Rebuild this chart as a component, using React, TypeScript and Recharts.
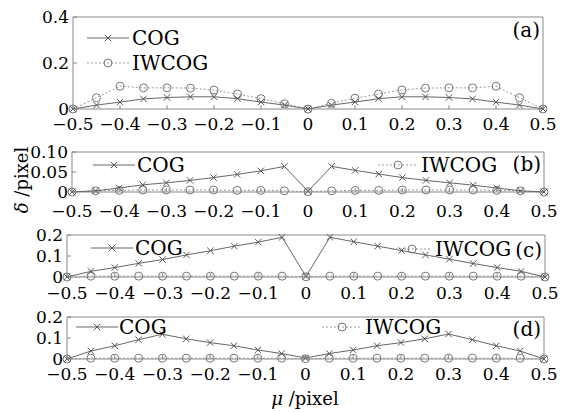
import React from "react";
import { LineChart, Line, XAxis, YAxis, ReferenceArea, Legend } from "recharts";

const mu = [-0.5, -0.45, -0.4, -0.35, -0.3, -0.25, -0.2, -0.15, -0.1, -0.05, 0, 0.05, 0.1, 0.15, 0.2, 0.25, 0.3, 0.35, 0.4, 0.45, 0.5];

const cogA = [0, 0.017, 0.03, 0.044, 0.05, 0.053, 0.053, 0.045, 0.03, 0.017, 0, 0.017, 0.03, 0.045, 0.053, 0.053, 0.05, 0.044, 0.03, 0.017, 0];
const iwcogA = [0, 0.049, 0.099, 0.092, 0.092, 0.091, 0.082, 0.065, 0.045, 0.023, 0, 0.025, 0.047, 0.065, 0.083, 0.091, 0.092, 0.092, 0.099, 0.049, 0];

const cogB = [0, 0.003, 0.01, 0.018, 0.023, 0.029, 0.036, 0.044, 0.053, 0.064, 0.002, 0.064, 0.054, 0.045, 0.036, 0.029, 0.023, 0.017, 0.01, 0.003, 0];
const iwcogB = [0, 0.003, 0.004, 0.005, 0.005, 0.005, 0.005, 0.004, 0.004, 0.003, 0.001, 0.003, 0.004, 0.004, 0.005, 0.005, 0.005, 0.005, 0.004, 0.003, 0];

const cogC = [0, 0.027, 0.045, 0.065, 0.083, 0.105, 0.125, 0.147, 0.166, 0.189, 0.003, 0.189, 0.168, 0.147, 0.126, 0.105, 0.085, 0.064, 0.045, 0.027, 0];
const iwcogC = [0, 0.004, 0.004, 0.004, 0.004, 0.004, 0.004, 0.004, 0.004, 0.004, 0.001, 0.004, 0.004, 0.004, 0.004, 0.004, 0.004, 0.004, 0.004, 0.004, 0];

const cogD = [0, 0.038, 0.063, 0.092, 0.118, 0.096, 0.078, 0.063, 0.043, 0.026, 0.005, 0.026, 0.043, 0.063, 0.078, 0.096, 0.119, 0.092, 0.063, 0.038, 0];
const iwcogD = [0, 0.004, 0.004, 0.004, 0.004, 0.004, 0.004, 0.004, 0.004, 0.004, 0.001, 0.004, 0.004, 0.004, 0.004, 0.004, 0.004, 0.004, 0.004, 0.004, 0];

const xTicks = [-0.5, -0.4, -0.3, -0.2, -0.1, 0, 0.1, 0.2, 0.3, 0.4, 0.5];
const yTicksA = [0, 0.2, 0.4];
const yTicksB = [0, 0.05, 0.1];
const yTicksC = [0, 0.1, 0.2];
const yTicksD = [0, 0.1, 0.2];

const names = ["COG", "IWCOG"];
const tags = ["(a)", "(b)", "(c)", "(d)"];

const FONT = "'DejaVu Serif', serif";
const W = 561;

const fmtX = (v: number) => (v === 0 ? "0" : (v < 0 ? "\u2212" : "") + Math.abs(v).toFixed(1));

function XMark(props: any) {
  const { cx, cy } = props;
  if (cx == null || cy == null) return null;
  const s = 3.2;
  return (
    <g>
      <line x1={cx - s} y1={cy - s} x2={cx + s} y2={cy + s} stroke="#555" strokeWidth={1} />
      <line x1={cx - s} y1={cy + s} x2={cx + s} y2={cy - s} stroke="#555" strokeWidth={1} />
    </g>
  );
}

function OMark(props: any) {
  const { cx, cy } = props;
  if (cx == null || cy == null) return null;
  return <circle cx={cx} cy={cy} r={4} fill="none" stroke="#777" strokeWidth={1} />;
}

type Item = { x0: number; x1: number; y: number; tx: number };

type PanelProps = {
  top: number;
  height: number;
  marginTop: number;
  plotH: number;
  left: number;
  right: number;
  cog: number[];
  iwcog: number[];
  yTicks: number[];
  yDigits: number;
  labelDy: number;
  items: Item[];
  tag: string;
  tagY: number;
};

function Panel(p: PanelProps) {
  const data = mu.map((x, i) => ({ x, cog: p.cog[i], iwcog: p.iwcog[i] }));
  const yMax = p.yTicks[p.yTicks.length - 1];
  const xAxisH = p.height - p.marginTop - p.plotH;

  const XTick = (t: any) => (
    <g>
      <line x1={t.x} y1={t.y} x2={t.x} y2={t.y - 4} stroke="#888" />
      <text x={t.x} y={t.y + p.labelDy} textAnchor="middle" dominantBaseline="central" fontFamily={FONT} fontSize={17} fill="#000">
        {fmtX(t.payload.value)}
      </text>
    </g>
  );

  const YTick = (t: any) => (
    <g>
      <line x1={t.x} y1={t.y} x2={t.x + 4} y2={t.y} stroke="#888" />
      <text x={t.x - 4} y={t.y} textAnchor="end" dominantBaseline="central" fontFamily={FONT} fontSize={17} fill="#000">
        {t.payload.value === 0 ? "0" : t.payload.value.toFixed(p.yDigits)}
      </text>
    </g>
  );

  const legend = () => (
    <svg width={W} height={p.height} style={{ position: "absolute", left: 0, top: 0, overflow: "visible" }}>
      {p.items.map((it, i) => {
        const mx = (it.x0 + it.x1) / 2;
        return (
          <g key={i}>
            <line
              x1={it.x0}
              y1={it.y}
              x2={it.x1}
              y2={it.y}
              stroke={i === 0 ? "#666" : "#999"}
              strokeDasharray={i === 0 ? undefined : "2 2"}
            />
            {i === 0 ? <XMark cx={mx} cy={it.y} /> : <OMark cx={mx} cy={it.y} />}
            <text x={it.tx} y={it.y} dominantBaseline="central" fontFamily={FONT} fontSize={20} fill="#000">
              {names[i]}
            </text>
          </g>
        );
      })}
      <text x={W - p.right - 3} y={p.tagY} textAnchor="end" dominantBaseline="central" fontFamily={FONT} fontSize={20} fill="#000">
        {p.tag}
      </text>
    </svg>
  );

  return (
    <div style={{ position: "absolute", left: 0, top: p.top }}>
      <LineChart width={W} height={p.height} data={data} margin={{ top: p.marginTop, right: p.right, bottom: 0, left: 0 }}>
        <XAxis
          dataKey="x"
          type="number"
          domain={[-0.5, 0.5]}
          ticks={xTicks}
          interval={0}
          height={xAxisH}
          axisLine={false}
          tickLine={false}
          tickSize={0}
          tickMargin={0}
          tick={(t: any) => <XTick key={t.index} {...t} />}
        />
        <YAxis
          type="number"
          domain={[0, yMax]}
          ticks={p.yTicks}
          interval={0}
          width={p.left}
          axisLine={false}
          tickLine={false}
          tickSize={0}
          tickMargin={0}
          tick={(t: any) => <YTick key={t.index} {...t} />}
        />
        <ReferenceArea x1={-0.5} x2={0.5} y1={0} y2={yMax} fill="none" stroke="#888" strokeWidth={1} />
        <Legend
          layout="horizontal"
          verticalAlign="middle"
          align="center"
          content={legend}
          wrapperStyle={{ left: 0, top: 0, width: W, height: p.height, pointerEvents: "none" }}
        />
        <Line
          dataKey="iwcog"
          stroke="#999"
          strokeWidth={1}
          strokeDasharray="2 2"
          isAnimationActive={false}
          dot={(d: any) => <OMark key={d.index} {...d} />}
        />
        <Line
          dataKey="cog"
          stroke="#666"
          strokeWidth={1}
          isAnimationActive={false}
          dot={(d: any) => <XMark key={d.index} {...d} />}
        />
      </LineChart>
    </div>
  );
}

export default function App() {
  return (
    <div style={{ position: "absolute", left: 0, top: 0, width: W, height: 412, background: "#fff", fontFamily: FONT }}>
      <Panel
        top={0}
        height={140}
        marginTop={17}
        plotH={92}
        left={73}
        right={18}
        cog={cogA}
        iwcog={iwcogA}
        yTicks={yTicksA}
        yDigits={1}
        labelDy={15}
        items={[
          { x0: 87, x1: 129, y: 38, tx: 132 },
          { x0: 87, x1: 129, y: 63, tx: 132 },
        ]}
        tag={tags[0]}
        tagY={30}
      />
      <Panel
        top={140}
        height={80}
        marginTop={12}
        plotH={40}
        left={72}
        right={17}
        cog={cogB}
        iwcog={iwcogB}
        yTicks={yTicksB}
        yDigits={2}
        labelDy={19}
        items={[
          { x0: 93, x1: 135, y: 25, tx: 137 },
          { x0: 378, x1: 418, y: 25, tx: 421 },
        ]}
        tag={tags[1]}
        tagY={24}
      />
      <Panel
        top={220}
        height={85}
        marginTop={15}
        plotH={42}
        left={67}
        right={16}
        cog={cogC}
        iwcog={iwcogC}
        yTicks={yTicksC}
        yDigits={1}
        labelDy={16}
        items={[
          { x0: 91, x1: 133, y: 28, tx: 135 },
          { x0: 392, x1: 432, y: 29, tx: 435 },
        ]}
        tag={tags[2]}
        tagY={30}
      />
      <Panel
        top={305}
        height={82}
        marginTop={12}
        plotH={42}
        left={67}
        right={17}
        cog={cogD}
        iwcog={iwcogD}
        yTicks={yTicksD}
        yDigits={1}
        labelDy={15}
        items={[
          { x0: 76, x1: 118, y: 22, tx: 119 },
          { x0: 322, x1: 362, y: 22, tx: 365 },
        ]}
        tag={tags[3]}
        tagY={24}
      />
      <div
        style={{
          position: "absolute",
          left: 21,
          top: 180,
          transform: "translate(-50%, -50%) rotate(-90deg)",
          whiteSpace: "nowrap",
          fontSize: 18,
          color: "#000",
        }}
      >
        <i>δ</i> /pixel
      </div>
      <div
        style={{
          position: "absolute",
          left: 305,
          top: 398,
          transform: "translate(-50%, -50%)",
          whiteSpace: "nowrap",
          fontSize: 18,
          color: "#000",
        }}
      >
        <i>μ</i> /pixel
      </div>
    </div>
  );
}
